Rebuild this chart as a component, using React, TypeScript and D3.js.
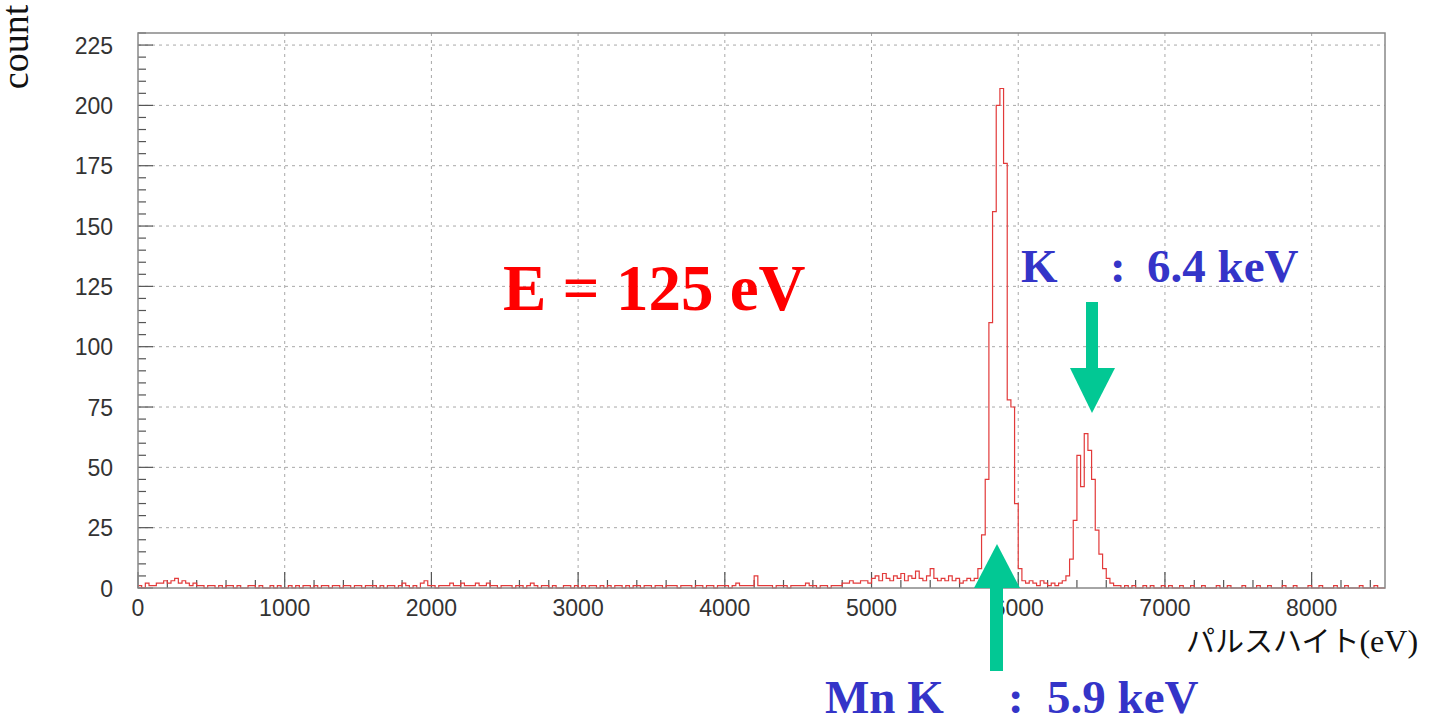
import { useEffect, useRef } from "react";
import * as d3 from "d3";

// pulse-height histogram, 25 eV bins starting at 0 eV
const binWidth = 25;
const counts: number[] = [
  // 0 - 500
  1, 0, 2, 1, 1, 2, 2, 3, 2, 3, 4, 2, 3, 2, 1, 2, 1, 1, 0, 1,
  // 500 - 1000
  1, 0, 1, 0, 1, 1, 0, 1, 0, 0, 1, 1, 0, 1, 0, 0, 1, 0, 1, 0,
  // 1000 - 1500
  0, 1, 0, 1, 0, 1, 1, 0, 1, 0, 1, 1, 0, 1, 1, 0, 1, 1, 0, 1,
  // 1500 - 2000
  1, 0, 1, 1, 1, 0, 1, 0, 1, 1, 0, 1, 2, 1, 0, 1, 0, 2, 3, 1,
  // 2000 - 2500
  1, 0, 1, 1, 1, 2, 1, 1, 2, 1, 1, 1, 2, 1, 1, 2, 1, 1, 0, 1,
  // 2500 - 3000
  1, 1, 0, 1, 1, 0, 1, 2, 1, 0, 1, 1, 0, 1, 0, 0, 1, 1, 0, 1,
  // 3000 - 3500
  0, 1, 0, 1, 1, 0, 1, 0, 1, 0, 1, 1, 0, 1, 0, 1, 1, 0, 1, 1,
  // 3500 - 4000
  0, 1, 1, 0, 1, 1, 1, 0, 1, 1, 1, 0, 1, 1, 0, 1, 1, 0, 1, 1,
  // 4000 - 4500
  1, 0, 1, 2, 1, 1, 1, 1, 5, 1, 1, 1, 1, 0, 1, 1, 1, 0, 1, 1,
  // 4500 - 5000
  1, 1, 2, 1, 1, 0, 1, 1, 0, 1, 1, 1, 2, 2, 3, 2, 2, 3, 3, 2,
  // 5000 - 5500
  4, 5, 3, 6, 4, 3, 5, 4, 6, 3, 5, 4, 7, 4, 3, 5, 8, 4, 3, 4,
  // 5500 - 6000  (Mn K-alpha)
  3, 5, 3, 4, 2, 3, 4, 3, 4, 8, 22, 45, 110, 156, 200, 207, 176, 78, 75, 35,
  // 6000 - 6500  (K-beta)
  8, 3, 2, 3, 2, 1, 3, 2, 1, 2, 1, 2, 3, 5, 12, 28, 55, 42, 64, 57,
  // 6500 - 7000
  45, 24, 14, 8, 4, 2, 1, 1, 0, 1, 0, 1, 0, 0, 1, 0, 1, 0, 0, 1,
  // 7000 - 7500
  0, 1, 0, 0, 1, 0, 0, 1, 0, 0, 1, 0, 0, 0, 1, 0, 0, 1, 0, 0,
  // 7500 - 8000
  0, 1, 0, 0, 0, 1, 0, 0, 1, 0, 0, 0, 1, 0, 0, 1, 0, 0, 0, 1,
  // 8000 - 8500
  0, 0, 1, 0, 0, 0, 1, 0, 0, 1, 0, 0, 0, 1, 0, 0, 0, 1, 0, 0,
];

const xTicks = [0, 1000, 2000, 3000, 4000, 5000, 6000, 7000, 8000];
const yTicks = [0, 25, 50, 75, 100, 125, 150, 175, 200, 225];

const serif = "'Liberation Serif', 'Times New Roman', serif";
const sans = "'Liberation Sans', Arial, Helvetica, sans-serif";
const green = "#02c894";
const blue = "#3434c8";

export default function App() {
  const ref = useRef<SVGSVGElement | null>(null);

  useEffect(() => {
    if (!ref.current) return;
    const svg = d3.select(ref.current);
    svg.selectAll("*").remove();

    const x = d3.scaleLinear().domain([0, 8500]).range([138, 1385]);
    const y = d3.scaleLinear().domain([0, 230]).range([588, 33]);

    // grid
    const grid = svg.append("g").attr("stroke", "#a8a8a8").attr("stroke-dasharray", "3,4");
    grid
      .selectAll("line.gx")
      .data(xTicks.slice(1))
      .join("line")
      .attr("x1", (d) => x(d))
      .attr("x2", (d) => x(d))
      .attr("y1", y(230))
      .attr("y2", y(0));
    grid
      .selectAll("line.gy")
      .data(yTicks.slice(1))
      .join("line")
      .attr("x1", x(0))
      .attr("x2", x(8500))
      .attr("y1", (d) => y(d))
      .attr("y2", (d) => y(d));

    // ticks (inside the frame)
    const tk = svg.append("g").attr("stroke", "#555").attr("stroke-width", 1.2);
    const xMinor = d3.range(0, 8501, 200);
    tk.selectAll("line.tx")
      .data(xMinor)
      .join("line")
      .attr("x1", (d) => x(d))
      .attr("x2", (d) => x(d))
      .attr("y1", y(0))
      .attr("y2", (d) => y(0) - (d % 1000 === 0 ? 16 : 8));
    const yMinor = d3.range(0, 231, 5);
    tk.selectAll("line.ty")
      .data(yMinor)
      .join("line")
      .attr("x1", x(0))
      .attr("x2", (d) => x(0) + (d % 25 === 0 ? 15 : 8))
      .attr("y1", (d) => y(d))
      .attr("y2", (d) => y(d));

    // histogram
    const pts: [number, number][] = counts.map((c, i) => [i * binWidth, c]);
    pts.push([counts.length * binWidth, counts[counts.length - 1]]);
    const line = d3
      .line<[number, number]>()
      .x((d) => x(d[0]))
      .y((d) => y(d[1]))
      .curve(d3.curveStepAfter);
    svg
      .append("path")
      .datum(pts)
      .attr("fill", "none")
      .attr("stroke", "#e23a3a")
      .attr("stroke-width", 1.2)
      .attr("d", line);

    // frame
    svg
      .append("rect")
      .attr("x", x(0))
      .attr("y", y(230))
      .attr("width", x(8500) - x(0))
      .attr("height", y(0) - y(230))
      .attr("fill", "none")
      .attr("stroke", "#888")
      .attr("stroke-width", 1.5);

    // tick labels
    svg
      .append("g")
      .selectAll("text")
      .data(xTicks)
      .join("text")
      .attr("x", (d) => x(d))
      .attr("y", 616)
      .attr("text-anchor", "middle")
      .attr("font-family", sans)
      .attr("font-size", 23)
      .attr("fill", "#333")
      .text((d) => d);
    svg
      .append("g")
      .selectAll("text")
      .data(yTicks)
      .join("text")
      .attr("x", 113)
      .attr("y", (d) => y(d) + 8.5)
      .attr("text-anchor", "end")
      .attr("font-family", sans)
      .attr("font-size", 23)
      .attr("fill", "#333")
      .text((d) => d);

    // axis titles
    svg
      .append("text")
      .attr("transform", "translate(28,47) rotate(-90)")
      .attr("text-anchor", "middle")
      .attr("font-family", serif)
      .attr("font-size", 38)
      .attr("fill", "#111")
      .text("count");
    const xt = svg
      .append("text")
      .attr("x", 1186)
      .attr("y", 652)
      .attr("fill", "#111");
    xt.append("tspan")
      .attr("font-family", "'Noto Sans CJK JP', sans-serif")
      .attr("font-size", 29)
      .text("パルスハイト");
    xt.append("tspan").attr("font-family", serif).attr("font-size", 32).text("(eV)");

    // annotations
    svg
      .append("text")
      .attr("x", 503)
      .attr("y", 310)
      .attr("font-family", serif)
      .attr("font-weight", "bold")
      .attr("font-size", 65)
      .attr("fill", "#ff0000")
      .text("E = 125 eV");

    const label = (parts: [number, string][], base: number) => {
      parts.forEach(([px, s]) =>
        svg
          .append("text")
          .attr("x", px)
          .attr("y", base)
          .attr("font-family", serif)
          .attr("font-weight", "bold")
          .attr("font-size", 47)
          .attr("fill", blue)
          .text(s)
      );
    };
    label([[1021, "K"], [1110, ":"], [1147, "6.4 keV"]], 282);
    label([[825, "Mn K"], [1008, ":"], [1047, "5.9 keV"]], 713);

    // arrows
    const ga = svg.append("g").attr("fill", green);
    ga.append("rect").attr("x", 1086).attr("y", 302).attr("width", 12).attr("height", 67);
    ga.append("path").attr("d", "M1070,368 L1115,368 L1092,413 Z");
    ga.append("rect").attr("x", 990).attr("y", 586).attr("width", 13).attr("height", 85);
    ga.append("path").attr("d", "M974,588 L1020,588 L997,544 Z");
  }, []);

  return (
    <svg
      ref={ref}
      width={1441}
      height={717}
      style={{ position: "absolute", left: 0, top: 0, background: "#fff" }}
    />
  );
}
